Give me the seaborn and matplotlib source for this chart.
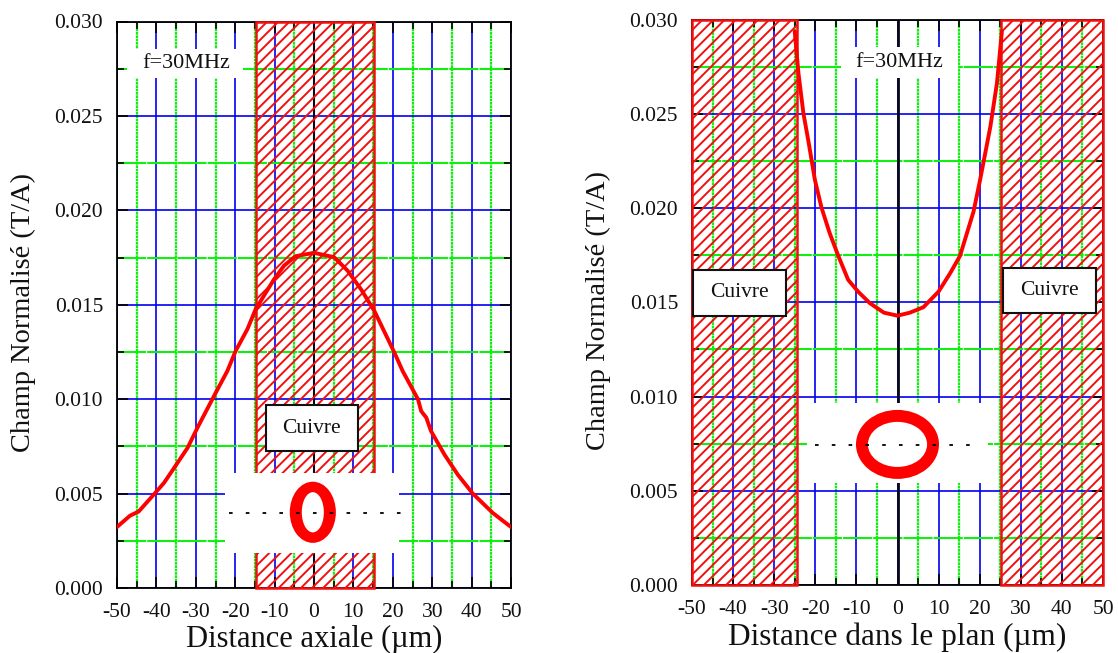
import matplotlib
import numpy as np
import seaborn as sns

matplotlib.use("Agg")
import matplotlib.pyplot as plt
from matplotlib.patches import Ellipse, Rectangle


FIG_W, FIG_H = 1118, 653
X_TICKS = list(range(-50, 51, 10))
Y_TICKS = [0.000, 0.005, 0.010, 0.015, 0.020, 0.025, 0.030]
X_MINOR = list(range(-45, 50, 10))
Y_MINOR = [0.0025, 0.0075, 0.0125, 0.0175, 0.0225, 0.0275]

axial_x = [-50, -46.7, -44.5, -40.7, -38.1, -35.5, -32.1, -29.6, -25.4, -22, -19.9, -16.9, -14.8,
           -12.7, -10.1, -7.6, -4.7, 0, 5.1, 8.5, 11.9, 15.3, 20.4, 22.5, 26.4, 27.2, 28.5, 29.7,
           33.1, 36.5, 40.3, 45.4, 50]
axial_field = [.00323, .00383, .00405, .00494, .00556, .00636, .00742, .00848, .01016, .01149, .01255,
               .01371, .01477, .01548, .01636, .01707, .01757, .01775, .01752, .01681, .01583, .01468,
               .01247, .01149, .00999, .00937, .00902, .00831, .00707, .00600, .00500, .00397, .00323]

plan_x = [-25, -24.1, -22.9, -21.6, -20.1, -18.5, -16.5, -14.4, -12, -9.6, -6.7, -3.3, 0, 3, 6.3, 10,
          12.8, 15.2, 18.5, 20.1, 22.6, 24.2, 25.4]
plan_field = [.02937, .02716, .02504, .02345, .0215, .02003, .01867, .01746, .01619, .01557, .01495,
              .01445, .01429, .01445, .01474, .01557, .01654, .01746, .01981, .0215, .02433, .02663,
              .02937]


def setup_axes(ax, center_width):
    ax.set_xlim(-50, 50)
    ax.set_ylim(0, 0.03)
    ax.set_xticks(X_TICKS)
    ax.set_yticks(Y_TICKS)
    ax.set_xticks(X_MINOR, minor=True)
    ax.set_yticks(Y_MINOR, minor=True)
    ax.set_xticklabels([str(v) for v in X_TICKS])
    ax.set_yticklabels([f"{v:.3f}" for v in Y_TICKS])
    ax.set_axisbelow(True)
    ax.grid(True, which="major", color="#0000f0", linewidth=1.2, linestyle="-")
    ax.yaxis.grid(True, which="minor", color="#10f010", linewidth=1.5, linestyle=(0, (14, 0.5)))
    ax.xaxis.grid(True, which="minor", color="#10f010", linewidth=1.6, linestyle=(0, (1.2, 0.3)))
    ax.tick_params(which="major", direction="in", length=8, width=1.2, top=True, right=True,
                   bottom=True, left=True, color="black", labelsize=15.5, labelcolor="#111111")
    ax.tick_params(axis="x", which="major", pad=10.5)
    ax.tick_params(axis="y", which="major", pad=10)
    ax.tick_params(which="minor", direction="in", length=5, width=1.2, top=True, right=True,
                   bottom=True, left=True, color="black")
    for spine in ax.spines.values():
        spine.set_linewidth(1.3)
        spine.set_color("black")
        spine.set_zorder(1.5)
    ax.axvline(0, color="#08081c", linewidth=center_width, zorder=1.2)


def add_hatch(ax, x0, x1):
    ax.add_patch(Rectangle((x0, 0), x1 - x0, 0.03, facecolor="none", edgecolor="#f01010", hatch="///",
                           linewidth=1.8, zorder=1.8, clip_on=False))


def add_blank(ax, x0, x1, y0, y1):
    ax.add_patch(Rectangle((x0, y0), x1 - x0, y1 - y0, facecolor="white", edgecolor="none", zorder=2))


def add_cuivre(ax, x0, x1, y0, y1):
    ax.add_patch(Rectangle((x0, y0), x1 - x0, y1 - y0, facecolor="white", edgecolor="#111111",
                           linewidth=1.5, zorder=5))
    ax.text((x0 + x1) / 2, (y0 + y1) / 2, "Cuivre", ha="center", va="center", fontsize=15.5,
            color="#111111", zorder=6)


def add_ring(ax, cx, cy, outer, inner, dots):
    ax.add_patch(Ellipse((cx, cy), outer[0], outer[1], facecolor="#ff0000", edgecolor="none", zorder=3))
    ax.add_patch(Ellipse((cx, cy), inner[0], inner[1], facecolor="white", edgecolor="none", zorder=3.1))
    ax.plot(dots[:2], [dots[2], dots[2]], color="black", linewidth=1.3, linestyle=(0, (2, 7.3)), zorder=3.2)


def add_curve(ax, x, y):
    sns.lineplot(x=x, y=y, ax=ax, color="#ff0000", linewidth=2.8, estimator=None, sort=False, zorder=4)


sns.set_theme(style="white")
plt.rcParams["font.family"] = ["Liberation Serif", "DejaVu Serif"]
plt.rcParams["hatch.linewidth"] = 1.4
plt.rcParams["hatch.color"] = "#f01010"

fig = plt.figure(figsize=(FIG_W / 100, FIG_H / 100), dpi=100)
ax_left = fig.add_axes([117 / FIG_W, 1 - 588 / FIG_H, 394 / FIG_W, 566.5 / FIG_H])
ax_right = fig.add_axes([692 / FIG_W, 1 - 585 / FIG_H, 411 / FIG_W, 565.4 / FIG_H])

# panneau gauche : distance axiale
setup_axes(ax_left, 1.5)
add_hatch(ax_left, -14.8, 15.3)
add_blank(ax_left, -47.4, -17.9, 0.02699, 0.02853)
add_blank(ax_left, -22.5, 21.6, 0.00186, 0.00611)
add_ring(ax_left, -0.3, 0.00401, (11.7, 0.00324), (5.6, 0.00213), (-21.7, 22, 0.00399))
add_curve(ax_left, axial_x, axial_field)
add_cuivre(ax_left, -12.3, 11.1, 0.00724, 0.00969)
ax_left.text(-32.5, 0.02775, "f=30MHz", ha="center", va="center", fontsize=16, color="#111111", zorder=6)
ax_left.set_xlabel("Distance axiale (µm)", fontsize=22, labelpad=2.5, color="#111111")
ax_left.set_ylabel("Champ Normalisé (T/A)", fontsize=20.4, labelpad=13, color="#111111", y=0.486)

# panneau droit : distance dans le plan
setup_axes(ax_right, 2.0)
add_hatch(ax_right, -50, -24.5)
add_hatch(ax_right, 25.2, 50)
add_blank(ax_right, -13.7, 14.7, 0.02691, 0.02856)
add_blank(ax_right, -22, 22, 0.00541, 0.00966)
add_ring(ax_right, 0, 0.00746, (20.2, 0.00366), (14.4, 0.00239), (-20, 19.6, 0.00743))
add_curve(ax_right, plan_x, plan_field)
add_cuivre(ax_right, -49.8, -27.1, 0.01428, 0.01672)
add_cuivre(ax_right, 25.7, 48.3, 0.01444, 0.01684)
ax_right.text(0.3, 0.02775, "f=30MHz", ha="center", va="center", fontsize=16, color="#111111", zorder=6)
ax_right.set_xlabel("Distance dans le plan (µm)", fontsize=22.5, labelpad=2.5, color="#111111")
ax_right.set_ylabel("Champ Normalisé (T/A)", fontsize=20.4, labelpad=13, color="#111111", y=0.485)

fig.savefig("out.png", dpi=100)
